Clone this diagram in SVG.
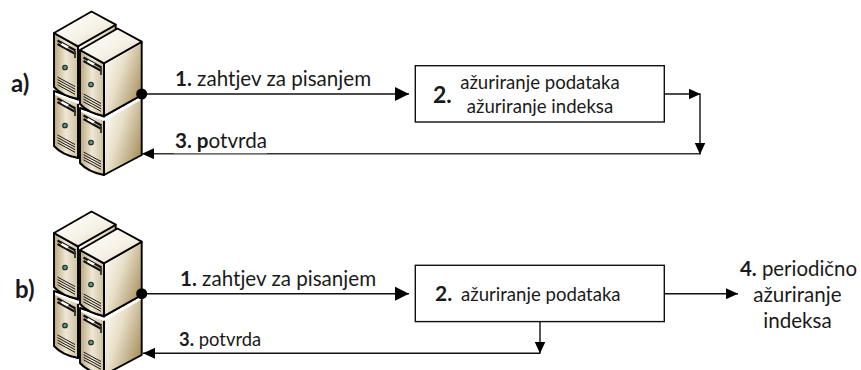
<svg xmlns="http://www.w3.org/2000/svg" width="861" height="370" viewBox="0 0 861 370">
<style>
text{font-family:"Lato","Carlito","Liberation Sans",sans-serif;font-size:20.6px;fill:#1a1a1a}
.b{font-weight:700}
.lab{font-size:24px;font-weight:700}
.c{text-anchor:middle}
.ln{fill:none;stroke:#111;stroke-width:1.4}
.ln2{fill:none;stroke:#333;stroke-width:1.6}
.box{fill:#fff;stroke:#111;stroke-width:1.4}
.e{stroke:#000;stroke-width:1.9;stroke-linejoin:round}
</style>
<defs>
<marker id="ah" markerUnits="userSpaceOnUse" markerWidth="14" markerHeight="14" refX="14" refY="7" orient="auto" viewBox="0 0 14 14"><path d="M0,0L14,7L0,14Z" fill="#000"/></marker>
<marker id="as" markerUnits="userSpaceOnUse" markerWidth="12" markerHeight="11" refX="12" refY="5.5" orient="auto" viewBox="0 0 12 11"><path d="M0,0L12,5.5L0,11Z" fill="#000"/></marker>
<linearGradient id="gt" x1="0" y1="0" x2="1" y2="1"><stop offset="0" stop-color="#fff"/><stop offset=".55" stop-color="#f6f2e7"/><stop offset="1" stop-color="#e0d6bd"/></linearGradient>
<linearGradient id="gs" x1="0" y1=".1" x2="1" y2=".75"><stop offset="0" stop-color="#fffefb"/><stop offset=".45" stop-color="#e8dfc9"/><stop offset="1" stop-color="#a68e5c"/></linearGradient>
<linearGradient id="gf" x1="0" y1="0" x2="1" y2="0"><stop offset="0" stop-color="#b9a67c"/><stop offset=".5" stop-color="#efe8d6"/><stop offset="1" stop-color="#cfc09f"/></linearGradient>
<g id="panel">
<path d="M3.5,7.5L21.5,17.5M3.5,11L21.5,21" stroke="#111" stroke-width="2.2" fill="none"/>
<path d="M21,18L21,25" stroke="#3a3226" stroke-width="1.8"/>
<path d="M8,10L15,13.8L13,15.6L7,12Z" fill="#fff"/>
<circle cx="11" cy="34.5" r="2.3" fill="#5e9488" stroke="#1c2a26" stroke-width="1.1"/>
<path d="M3.5,44L21,53.5M3.5,46.6L21,56.1M3.5,49.2L21,58.7M3.5,51.8L21,61.3" stroke="#1a1a1a" stroke-width="1" fill="none"/>
</g>
<g id="unit">
<path class="e" fill="url(#gs)" d="M24,13.3L61.7,-8.3V45L24,66Z"/>
<path class="e" fill="url(#gf)" d="M0,0L24,13.3V66Q8,63 0,54Z"/>
<path class="e" fill="url(#gt)" d="M0,0L37.5,-21.5L61.7,-8.3L24,13.3Z"/>
<use href="#panel"/>
</g>
<g id="lower">
<path class="e" fill="url(#gs)" d="M24,8.5L61.7,-13V47L24,67Z"/>
<path class="e" fill="url(#gf)" d="M0,0L24,8.5V67Q8,64 0,55Z"/>
<path fill="#fff" d="M1,1.5L24,9.8L60.7,-11V-8L24,13L1,4Z"/>
<use href="#panel"/>
</g>
<g id="rack">
<use href="#lower" x="54" y="91"/>
<use href="#unit" x="54" y="33"/>
<use href="#lower" x="80" y="108"/>
<use href="#unit" x="80" y="50"/>
</g>
</defs>
<rect width="861" height="370" fill="#fff"/>
<g id="server-a"><use href="#rack"/></g>
<g id="server-b"><use href="#rack" y="200"/></g>
<g id="connectors">
<path class="ln" marker-end="url(#ah)" d="M142,94H409"/>
<path class="ln" marker-end="url(#as)" d="M664,94H700.5"/>
<path class="ln" marker-end="url(#as)" d="M700,94V154.5"/>
<path class="ln2" marker-end="url(#as)" d="M700,153.7H142"/>
<rect x="174" y="146" width="93" height="7.3" fill="#fff"/>
<circle cx="141.7" cy="94" r="5.5" fill="#000"/>
<path class="ln" marker-end="url(#ah)" d="M142,293.7H409"/>
<path class="ln" marker-end="url(#as)" d="M664,293.7H738"/>
<path class="ln" marker-end="url(#as)" d="M540,321.7V353.5"/>
<path class="ln" marker-end="url(#as)" d="M540,353.3H143"/>
<circle cx="141.7" cy="293.7" r="5.5" fill="#000"/>
</g>
<g id="label-a"><text class="lab" x="11" y="92">a)</text></g>
<g id="label-b"><text class="lab" x="15" y="298">b)</text></g>
<g id="req-a"><text x="175" y="86"><tspan class="b">1.</tspan> zahtjev za pisanjem</text></g>
<g id="ack-a"><text x="175" y="147.7"><tspan class="b">3. p</tspan>otvrda</text></g>
<g id="box-a">
<rect class="box" x="415.3" y="65.7" width="249" height="56.3"/>
<text class="b" x="433" y="102.7" style="font-size:23px">2.</text>
<text class="c" x="540" y="89" style="font-size:18.6px">ažuriranje podataka</text>
<text class="c" x="540" y="112.7" style="font-size:18.6px">ažuriranje indeksa</text>
</g>
<g id="req-b"><text x="180" y="285.7"><tspan class="b">1.</tspan> zahtjev za pisanjem</text></g>
<g id="ack-b"><text x="179" y="345.7" style="font-size:18.4px"><tspan class="b">3.</tspan> potvrda</text></g>
<g id="box-b">
<rect class="box" x="415.3" y="265.3" width="249" height="56.3"/>
<text class="b" x="435" y="301" style="font-size:21px">2.</text>
<text x="461" y="301" style="font-size:18.6px">ažuriranje podataka</text>
</g>
<g id="step-4">
<text x="740" y="276" style="font-size:20.4px"><tspan class="b">4.</tspan> periodično</text>
<text class="c" x="797.5" y="301.7">ažuriranje</text>
<text class="c" x="797.5" y="328">indeksa</text>
</g>
</svg>
